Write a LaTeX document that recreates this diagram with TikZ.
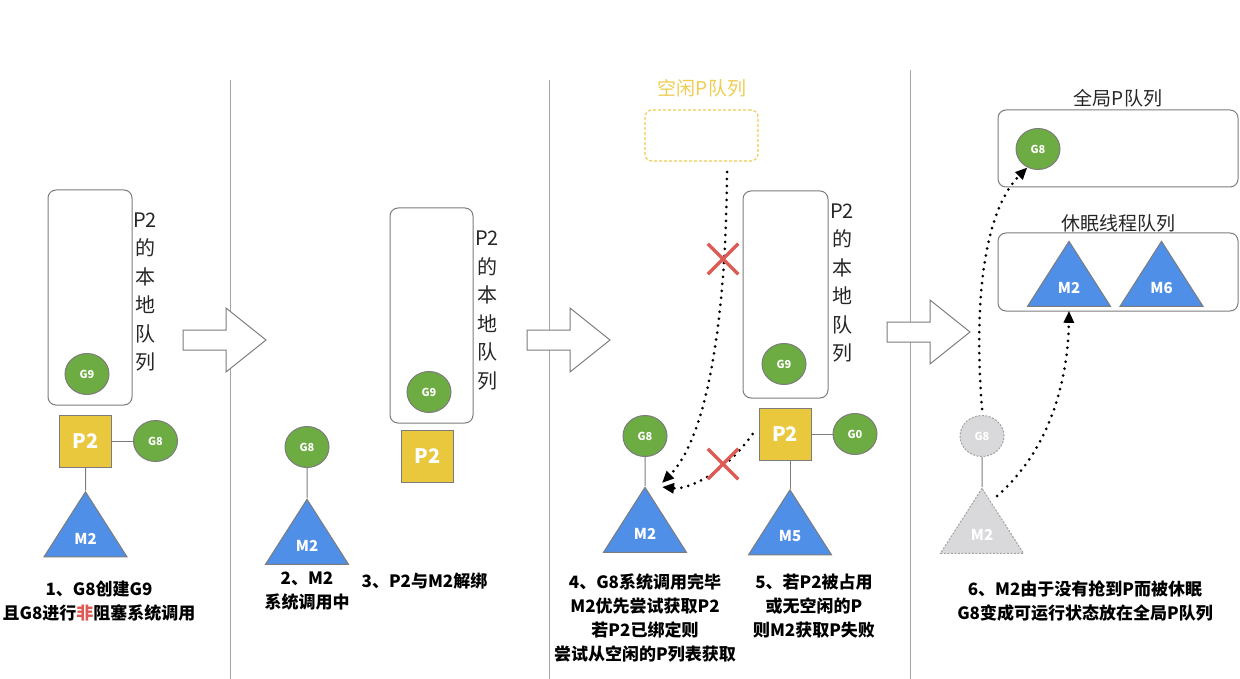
\documentclass[tikz,border=0pt]{standalone}
\usepackage{fontspec}
\setmainfont{Noto Sans CJK SC}
\usetikzlibrary{positioning,shapes.geometric,shapes.misc,arrows.meta}

\definecolor{gcol}{HTML}{6DAB43}
\definecolor{pcol}{HTML}{E9C83E}
\definecolor{mcol}{HTML}{4F8FE8}
\definecolor{ghostcol}{HTML}{D9D9DB}
\definecolor{edgecol}{HTML}{7C7C7C}
\definecolor{xcol}{HTML}{DD5A55}
\definecolor{idlecol}{HTML}{EDCD52}

\begin{document}
\begin{tikzpicture}[x=1pt, y=-1pt,
    gor/.style = {ellipse, draw=edgecol, fill=gcol, line width=1pt, minimum width=44pt, minimum height=41pt, inner sep=0pt, text=white, font=\fontsize{11}{11}\selectfont\bfseries},
    proc/.style = {rectangle, draw=edgecol, fill=pcol, line width=1pt, minimum size=52pt, inner sep=0pt, text=white, font=\fontsize{20}{20}\selectfont\bfseries},
    mach/.style = {isosceles triangle, isosceles triangle stretches, shape border rotate=90, draw=edgecol, fill=mcol, line width=1pt, minimum width=83pt, minimum height=65pt, inner sep=0pt, text=white, font=\fontsize{15}{15}\selectfont\bfseries},
    ghost/.style = {fill=ghostcol, draw=edgecol!70, dash pattern=on 2pt off 1.5pt},
    queue/.style = {rectangle, rounded corners=8pt, draw=edgecol, line width=1pt, minimum width=84pt, minimum height=215pt},
    idlebox/.style = {rectangle, rounded corners=7pt, draw=idlecol, line width=1.2pt, dash pattern=on 3pt off 2pt, minimum width=113pt, minimum height=51pt},
    qlabel/.style = {align=center, font=\fontsize{20}{28.5}\selectfont, text=black!85},
    title/.style = {font=\fontsize{19}{19}\selectfont, text=black!85},
    caption/.style = {align=center, font=\fontsize{17}{24}\selectfont\bfseries},
    link/.style = {draw=edgecol, line width=1pt},
    sep/.style = {draw=black!35, line width=1pt},
    bigarrow/.style = {draw=edgecol, fill=white, line width=1pt, line join=miter},
    dotarrow/.style = {line width=3pt, line cap=round, dash pattern=on 0pt off 7pt, -{Triangle[length=12pt,width=10pt]}},
    nope/.style = {cross out, draw=xcol, line width=3.5pt, minimum size=27pt, inner sep=0pt}]

    \useasboundingbox (0,0) rectangle (1240,679);

    % separators and big arrows
    \draw[sep] (230,80) -- (230,679);
    \draw[sep] (549,80) -- (549,679);
    \draw[sep] (910,70) -- (910,679);
    \foreach \ax/\ay in {183/340, 527/340, 887/332}
        \draw[bigarrow, shift={(\ax,\ay)}] (0,-10) -- (43,-10) -- (43,-32) -- (83,0) -- (43,32) -- (43,10) -- (0,10) -- cycle;

    % step 1
    \node[queue] (q1) at (90,297.5) {};
    \node[qlabel] (q1l) at (145,292) {P2\\的\\本\\地\\队\\列};
    \node[gor] (g9a) at (87,374) {G9};
    \node[proc] (p2a) at (85.5,441) {P2};
    \node[gor, right=21pt of p2a] (g8a) {G8};
    \node[mach, below=23pt of p2a] (m2a) {M2};
    \draw[link] (p2a) -- (g8a);
    \draw[link] (p2a) -- (m2a);
    \node[caption] (c1) at (99,601.5) {1、G8创建G9\\且G8进行\textcolor{xcol}{非}阻塞系统调用};

    % step 2 and 3
    \node[gor] (g8b) at (307,447) {G8};
    \node[mach, below=30pt of g8b] (m2b) {M2};
    \draw[link] (g8b) -- (m2b);
    \node[queue, minimum width=83pt] (q2) at (431.5,315.5) {};
    \node[qlabel] (q2l) at (487,310.5) {P2\\的\\本\\地\\队\\列};
    \node[gor] (g9b) at (429,392) {G9};
    \node[proc] (p2b) at (427.5,456) {P2};
    \node[caption] (c2) at (307,591) {2、M2\\系统调用中};
    \node[caption] (c3) at (424.5,581) {3、P2与M2解绑};

    % step 4 and 5
    \node[idlebox] (iq) at (701.5,135.5) {};
    \node[title, text=idlecol] (iql) at (702,88) {空闲P队列};
    \node[queue, minimum width=85pt, minimum height=207pt] (q3) at (785.5,294.5) {};
    \node[qlabel] (q3l) at (842,283) {P2\\的\\本\\地\\队\\列};
    \node[gor] (g9c) at (784,364) {G9};
    \node[proc] (p2c) at (785,434) {P2};
    \node[gor, right=21pt of p2c] (g0c) {G0};
    \node[mach, below=28pt of p2c, xshift=5pt] (m5c) {M5};
    \draw[link] (p2c) -- (g0c);
    \draw[link] (m5c.apex) -- (m5c.apex |- p2c.south);
    \node[gor] (g8c) at (645,436) {G8};
    \node[mach, below=29pt of g8c] (m2c) {M2};
    \draw[link] (g8c) -- (m2c);
    \coordinate (s1) at (727,172);
    \draw[dotarrow] (s1) .. controls (726,330) and (705,440) .. ([xshift=17pt,yshift=3pt]m2c.apex);
    \draw[dotarrow] ([xshift=-6pt]p2c.west) .. controls (728,470) and (690,490) .. ([xshift=17pt,yshift=-1pt]m2c.apex);
    \node[nope] (x1) at (723,259) {};
    \node[nope] (x2) at (723,464) {};
    \node[caption] (c4) at (645,618) {4、G8系统调用完毕\\M2优先尝试获取P2\\若P2已绑定则\\尝试从空闲的P列表获取};
    \node[caption] (c5) at (814,606) {5、若P2被占用\\或无空闲的P\\则M2获取P失败};

    % step 6
    \node[queue, minimum width=240pt, minimum height=77pt] (gq) at (1118,148.5) {};
    \node[title] (gql) at (1118,98) {全局P队列};
    \node[gor] (g8d) at (1038,149) {G8};
    \node[queue, minimum width=240pt, minimum height=78pt] (sq) at (1118,272) {};
    \node[title] (sql) at (1118,223) {休眠线程队列};
    \node[mach, anchor=apex] (m2d) at (1069,240) {M2};
    \node[mach, anchor=apex] (m6d) at (1161.5,240) {M6};
    \node[gor, ghost] (g8e) at (982,436) {G8};
    \node[mach, ghost, below=30pt of g8e] (m2e) {M2};
    \draw[link] (g8e) -- (m2e);
    \draw[dotarrow] ([yshift=6pt]g8e.north) .. controls (972,280) and (990,205) .. (g8d.240);
    \draw[dotarrow] (997,496) .. controls (1050,450) and (1068,380) .. ([yshift=-4pt]m2d.south);
    \node[caption] (c6) at (1085,601.5) {6、M2由于没有抢到P而被休眠\\G8变成可运行状态放在全局P队列};
\end{tikzpicture}
\end{document}
